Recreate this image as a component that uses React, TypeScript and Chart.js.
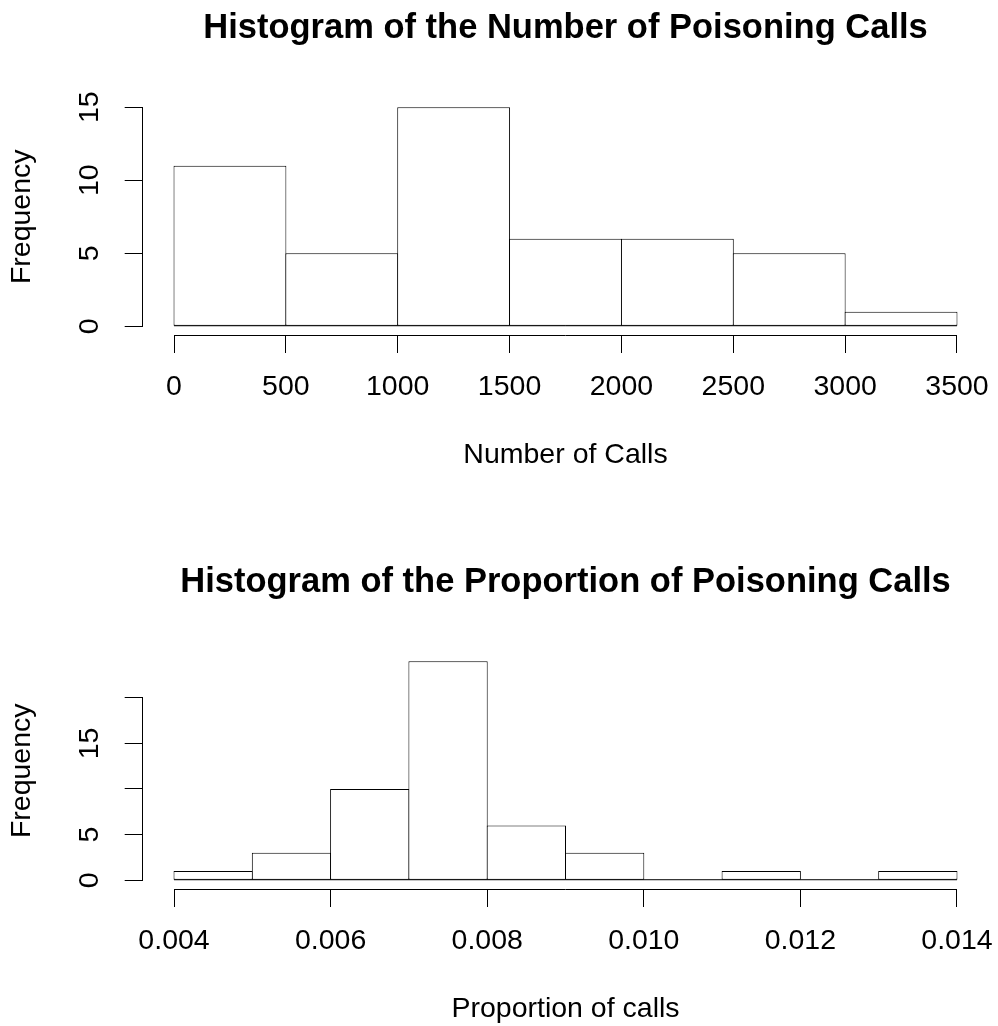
import React, { useEffect, useRef } from 'react';
import { Chart, registerables } from 'chart.js';

Chart.register(...registerables);

// ---------- data ----------
const topTitle = 'Histogram of the Number of Poisoning Calls';
const topXLabel = 'Number of Calls';
const topBreaks = [0, 500, 1000, 1500, 2000, 2500, 3000, 3500];
const topCounts = [11, 5, 15, 6, 6, 5, 1];
const topXTicks = [0, 500, 1000, 1500, 2000, 2500, 3000, 3500];
const topXTickLabels = ['0', '500', '1000', '1500', '2000', '2500', '3000', '3500'];
const topYTicks = [0, 5, 10, 15];
const topYTickLabels = ['0', '5', '10', '15'];

const bottomTitle = 'Histogram of the Proportion of Poisoning Calls';
const bottomXLabel = 'Proportion of calls';
const bottomBreaks = [0.004, 0.005, 0.006, 0.007, 0.008, 0.009, 0.01, 0.011, 0.012, 0.013, 0.014];
const bottomCounts = [1, 3, 10, 24, 6, 3, 0, 1, 0, 1];
const bottomXTicks = [0.004, 0.006, 0.008, 0.01, 0.012, 0.014];
const bottomXTickLabels = ['0.004', '0.006', '0.008', '0.010', '0.012', '0.014'];
const bottomYTicks = [0, 5, 10, 15, 20];
const bottomYTickLabels = ['0', '5', '', '15', ''];

const yLabel = 'Frequency';

// ---------- layout / style ----------
const FONT = '"Liberation Sans", Arial, Helvetica, sans-serif';
const W = 998;
const H = 554;
const PLOT_LEFT = 142.7;
const PLOT_RIGHT = 988.3;
const PLOT_TOP = 98.5;
const PLOT_BOTTOM = 335;
const EXPAND = 0.04;
const AXIS_FONT = 28.5;
const TITLE_FONT = 34.5;
const TICK_LEN = 18;

const rAxisPlugin = {
  id: 'rAxis',
  afterDatasetsDraw(chart: any) {
    const { ctx, scales } = chart;
    const x = scales.x;
    const y = scales.y;
    const breaks: number[] = chart.options.plugins.rAxis.breaks;
    ctx.save();
    ctx.strokeStyle = '#000';
    ctx.lineWidth = 1;
    // histogram base line (bottom edges of every bin, incl. empty bins)
    const y0 = y.getPixelForValue(0) - 0.5;
    ctx.beginPath();
    ctx.moveTo(x.getPixelForValue(breaks[0]), y0);
    ctx.lineTo(x.getPixelForValue(breaks[breaks.length - 1]), y0);
    ctx.stroke();
    ctx.restore();
  },
  afterDraw(chart: any) {
    const { ctx, scales, chartArea } = chart;
    const x = scales.x;
    const y = scales.y;
    const al = (p: number) => Math.round(p - 0.5) + 0.5;
    ctx.save();
    ctx.strokeStyle = '#000';
    ctx.lineWidth = 1;
    ctx.lineCap = 'square';
    ctx.beginPath();
    const xt = x.ticks;
    const yb = Math.round(chartArea.bottom) + 0.5;
    ctx.moveTo(al(x.getPixelForValue(xt[0].value)), yb);
    ctx.lineTo(al(x.getPixelForValue(xt[xt.length - 1].value)), yb);
    const yt = y.ticks;
    const xl = Math.round(chartArea.left) - 0.5;
    ctx.moveTo(xl, al(y.getPixelForValue(yt[0].value)));
    ctx.lineTo(xl, al(y.getPixelForValue(yt[yt.length - 1].value)));
    ctx.stroke();
    ctx.restore();
  },
};

type HistProps = {
  title: string;
  xLabel: string;
  breaks: number[];
  counts: number[];
  xTicks: number[];
  xTickLabels: string[];
  yTicks: number[];
  yTickLabels: string[];
};

function Histogram(props: HistProps) {
  const ref = useRef<HTMLCanvasElement | null>(null);
  useEffect(() => {
    const { title, xLabel, breaks, counts, xTicks, xTickLabels, yTicks, yTickLabels } = props;
    const xr = breaks[breaks.length - 1] - breaks[0];
    const xMin = breaks[0] - EXPAND * xr;
    const xMax = breaks[breaks.length - 1] + EXPAND * xr;
    const yTop = Math.max(...counts);
    const yMin = -EXPAND * yTop;
    const yMax = yTop + EXPAND * yTop;
    const binPx = ((PLOT_RIGHT - PLOT_LEFT) * (breaks[1] - breaks[0])) / (xMax - xMin);
    const barPct = (binPx + 1) / binPx;

    const data = counts.map((c, i) => ({ x: (breaks[i] + breaks[i + 1]) / 2, y: c }));

    const chart = new Chart(ref.current as HTMLCanvasElement, {
      type: 'bar',
      data: {
        datasets: [
          {
            data,
            backgroundColor: '#ffffff',
            borderColor: '#000000',
            borderWidth: 1,
            borderSkipped: false,
            barPercentage: barPct,
            categoryPercentage: 1,
            inflateAmount: 0,
          } as any,
        ],
      },
      options: {
        responsive: false,
        animation: false,
        devicePixelRatio: 1,
        events: [],
        layout: { padding: { left: 0, right: W - PLOT_RIGHT, top: 0, bottom: 0 } },
        plugins: {
          legend: { display: false },
          tooltip: { enabled: false },
          title: {
            display: true,
            text: title,
            fullSize: false,
            color: '#000',
            font: { size: TITLE_FONT, weight: 'bold', family: FONT, lineHeight: 1.2 },
            padding: { top: 7.3, bottom: PLOT_TOP - TITLE_FONT * 1.2 - 7.3 },
          },
          rAxis: { breaks },
        } as any,
        scales: {
          x: {
            type: 'linear',
            position: 'bottom',
            min: xMin,
            max: xMax,
            bounds: 'data',
            offset: false,
            afterBuildTicks: (s: any) => {
              s.ticks = xTicks.map((v) => ({ value: v }));
            },
            afterFit: (s: any) => {
              s.height = H - PLOT_BOTTOM;
              s.paddingLeft = 0;
              s.paddingRight = 0;
              s.paddingTop = 0;
              s.paddingBottom = 0;
            },
            ticks: {
              autoSkip: false,
              minRotation: 0,
              maxRotation: 0,
              padding: 17.3,
              color: '#000',
              font: { size: AXIS_FONT, family: FONT },
              callback: (_v: any, i: number) => xTickLabels[i],
            },
            grid: {
              display: true,
              drawOnChartArea: false,
              drawTicks: true,
              tickLength: TICK_LEN,
              color: '#000',
              lineWidth: 1,
              offset: false,
            },
            border: { display: false },
            title: {
              display: true,
              text: xLabel,
              color: '#000',
              font: { size: AXIS_FONT, family: FONT },
              padding: { top: 0, bottom: 81.8 },
            },
          } as any,
          y: {
            type: 'linear',
            position: 'left',
            min: yMin,
            max: yMax,
            bounds: 'data',
            afterBuildTicks: (s: any) => {
              s.ticks = yTicks.map((v) => ({ value: v }));
            },
            afterFit: (s: any) => {
              s.width = PLOT_LEFT;
              s.paddingLeft = 0;
              s.paddingRight = 0;
              s.paddingTop = 0;
              s.paddingBottom = 0;
            },
            ticks: {
              autoSkip: false,
              minRotation: 90,
              maxRotation: 90,
              crossAlign: 'center',
              padding: 18.75,
              color: '#000',
              font: { size: AXIS_FONT, family: FONT },
              callback: (_v: any, i: number) => yTickLabels[i],
            },
            grid: {
              display: true,
              drawOnChartArea: false,
              drawTicks: true,
              tickLength: TICK_LEN,
              color: '#000',
              lineWidth: 1,
            },
            border: { display: false },
            title: {
              display: true,
              text: yLabel,
              color: '#000',
              font: { size: AXIS_FONT, family: FONT },
              padding: { top: 5.5, bottom: 0 },
            },
          } as any,
        },
      },
      plugins: [rAxisPlugin as any],
    });
    return () => chart.destroy();
  }, []);
  return <canvas ref={ref} width={W} height={H} style={{ display: 'block', width: W, height: H }} />;
}

export default function App() {
  return (
    <div
      style={{
        position: 'fixed',
        left: 0,
        top: 0,
        width: W,
        height: 1026,
        overflow: 'hidden',
        background: '#ffffff',
      }}
    >
      <Histogram
        title={topTitle}
        xLabel={topXLabel}
        breaks={topBreaks}
        counts={topCounts}
        xTicks={topXTicks}
        xTickLabels={topXTickLabels}
        yTicks={topYTicks}
        yTickLabels={topYTickLabels}
      />
      <Histogram
        title={bottomTitle}
        xLabel={bottomXLabel}
        breaks={bottomBreaks}
        counts={bottomCounts}
        xTicks={bottomXTicks}
        xTickLabels={bottomXTickLabels}
        yTicks={bottomYTicks}
        yTickLabels={bottomYTickLabels}
      />
    </div>
  );
}
